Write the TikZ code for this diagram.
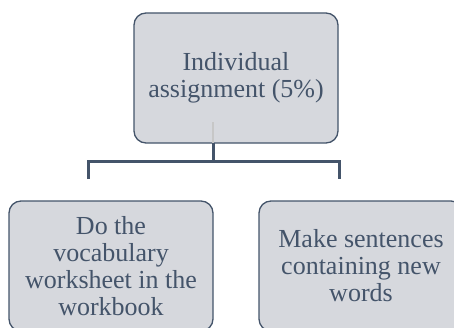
\documentclass[tikz,border=0pt]{standalone}
\usepackage{fontspec}
\setmainfont{Liberation Serif}
\definecolor{edge}{HTML}{44546A}
\definecolor{boxfill}{HTML}{D6D8DD}
\begin{document}
\begin{tikzpicture}[x=1pt,y=1pt,
  box/.style={draw=edge, fill=boxfill, line width=1.3pt, rounded corners=12pt,
    minimum width=204pt, minimum height=130pt, align=center, text=edge,
    font=\fontsize{26}{27}\selectfont, inner sep=2pt},
  conn/.style={draw=edge, line width=3pt}]
\useasboundingbox (0,0) rectangle (454,327);
\clip (0,0) rectangle (454,327);
\node[box] (top) at (236,249) {Individual\\assignment (5\%)};
\node[box] (left) at (111,61) {Do the\\vocabulary\\worksheet in the\\workbook};
\node[box] (right) at (361,61) {Make sentences\\containing new\\words};
\coordinate (ghost) at (213,205);
\coordinate (hub) at (213,184);
\coordinate (mid) at (213,166);
\coordinate (lend) at (88,148);
\coordinate (rend) at (339,148);
\draw[black!22, line width=1.5pt] (ghost) -- (hub);
\draw[conn] (hub) -- (mid);
\draw[conn] (lend) |- (mid) -| (rend);
\end{tikzpicture}
\end{document}
